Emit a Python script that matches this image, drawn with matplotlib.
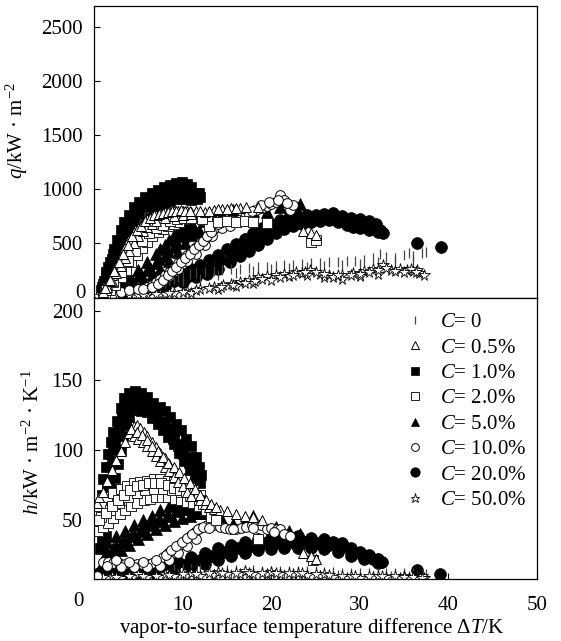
import matplotlib
matplotlib.use("Agg")
import matplotlib.pyplot as plt
import numpy as np

plt.rcParams['font.family'] = ['Liberation Serif', 'DejaVu Serif']
plt.rcParams['mathtext.fontset'] = 'custom'
plt.rcParams['mathtext.rm'] = 'Liberation Serif'
plt.rcParams['mathtext.it'] = 'Liberation Serif:italic'

# (dT, q) and (dT, h) points, one list per mass fraction
c0_q = [(4.0, 60), (5.0, 80), (6.0, 100), (6.5, 115), (7.0, 130), (7.5, 140), (8.0, 150), (8.5, 160),
        (9.0, 170), (9.5, 180), (10.0, 190), (10.8, 210), (11.5, 220), (12.5, 230), (13.5, 240),
        (14.5, 250), (15.5, 255), (16.5, 260), (17.5, 270), (18.5, 275), (19.5, 280), (20.5, 290),
        (21.5, 295), (22.5, 300), (23.5, 305), (24.5, 310), (25.5, 315), (26.5, 320), (27.5, 325),
        (28.5, 330), (29.5, 335), (30.5, 345), (31.5, 360), (32.3, 400), (33.0, 370), (34.0, 360),
        (35.0, 390), (35.6, 404), (36.0, 380), (37.0, 410), (37.5, 420),
        (6.0, 70), (8.0, 110), (10.0, 140), (12.0, 170), (14.0, 200), (16.0, 220), (18.0, 240),
        (20.0, 255), (22.0, 270), (24.0, 280), (26.0, 290), (28.0, 295), (30.0, 305), (32.0, 320),
        (34.0, 330), (36.0, 340)]
c0_h = [(4.0, 12), (5.0, 13), (6.0, 14), (7.0, 15), (8.0, 15), (9.0, 15), (10.0, 15), (11.0, 15),
        (12.0, 15), (13.0, 14), (14.0, 14), (15.0, 14), (16.0, 14), (17.0, 14), (18.0, 14), (19.0, 13),
        (20.0, 13), (21.0, 13), (22.0, 13), (23.0, 13), (24.0, 13), (25.0, 13), (26.0, 12.5),
        (27.0, 12.5), (28.0, 12), (29.0, 12), (30.0, 12), (31.0, 12), (32.0, 12), (33.0, 12),
        (34.0, 11.5), (35.0, 11.5), (36.0, 11.5), (37.0, 11), (37.5, 11),
        (5.5, 10), (7.5, 11), (9.5, 11), (11.5, 11), (13.5, 11), (15.5, 11), (17.5, 11), (19.5, 11),
        (21.5, 11), (23.5, 11), (25.5, 10.5), (27.5, 10.5), (29.5, 10), (31.5, 10), (33.5, 10),
        (35.5, 10), (36.5, 10)]

c05_q = [(1.0, 50), (1.5, 120), (2.0, 200), (2.5, 290), (3.0, 380), (3.5, 460), (4.0, 540), (4.5, 600),
         (5.0, 640), (5.5, 680), (6.0, 720), (6.5, 745), (7.0, 760), (7.5, 775), (8.0, 790), (8.5, 795),
         (9.0, 800), (9.5, 800), (10.0, 800), (10.5, 795), (11.0, 790), (11.5, 800), (12.5, 790),
         (13.5, 805), (14.5, 815), (15.5, 820), (16.5, 825), (17.2, 836), (18.5, 830),
         (1.5, 90), (2.0, 150), (2.5, 220), (3.0, 290), (3.5, 360), (4.0, 430), (4.5, 500), (5.0, 560),
         (5.5, 610), (6.0, 650), (6.5, 680), (7.0, 700), (8.0, 730), (9.0, 750), (10.0, 760), (11.0, 770),
         (1.2, 80), (1.8, 160), (2.3, 240), (2.8, 320), (3.3, 400), (3.8, 480), (4.3, 560), (4.8, 620),
         (5.3, 660), (5.8, 700), (6.3, 735), (6.8, 755), (7.3, 765), (7.8, 780), (8.3, 790), (8.8, 795),
         (9.3, 800), (9.8, 805), (10.3, 800), (10.8, 795), (12.0, 800), (13.0, 800), (14.0, 810),
         (15.0, 815), (16.0, 820),
         (23.6, 610), (24.5, 595), (25.1, 575)]
c05_h = [(0.3, 62), (0.6, 66), (1.0, 70), (1.5, 78), (2.0, 86), (2.5, 93), (3.0, 99), (3.5, 106),
         (4.0, 112), (4.5, 117), (4.8, 118), (5.2, 116), (5.6, 113), (6.0, 110), (6.5, 106), (7.0, 102),
         (7.5, 98), (8.0, 94), (8.5, 90), (9.0, 86), (9.5, 82), (10.0, 78), (10.5, 74), (11.0, 70),
         (11.5, 67), (12.0, 64), (12.5, 61), (13.0, 59), (13.5, 58), (14.2, 57),
         (4.5, 110), (5.0, 108), (5.5, 106), (6.0, 103), (6.5, 99), (7.0, 96), (7.5, 92), (8.0, 88),
         (8.5, 85), (9.0, 81), (9.5, 77), (10.0, 74), (10.5, 70), (11.0, 67),
         (4.2, 115), (4.8, 113), (5.4, 111), (6.0, 107), (6.6, 103), (7.2, 99), (7.8, 95), (8.4, 91),
         (9.0, 88), (9.6, 84), (10.2, 80), (10.8, 76), (11.4, 72), (12.0, 68), (12.6, 64), (13.2, 61),
         (13.8, 59),
         (15.0, 56), (16.0, 54), (17.0, 53), (18.0, 52), (19.0, 50), (23.6, 26), (24.5, 24), (25.1, 22)]

c1_q = [(0.8, 60), (1.0, 120), (1.3, 200), (1.6, 280), (2.0, 350), (2.3, 440), (2.6, 530), (3.0, 620),
        (3.4, 690), (3.9, 760), (4.5, 830), (5.1, 880), (5.8, 930), (6.5, 965), (7.2, 990), (7.9, 1020),
        (8.6, 1040), (9.3, 1055), (9.9, 1065), (10.5, 1045), (11.0, 1020), (11.5, 960), (12.0, 925),
        (1.5, 60), (1.9, 110), (2.3, 170), (2.7, 240), (3.1, 310), (3.5, 370), (3.9, 420), (4.3, 480),
        (4.8, 550), (5.3, 610), (5.8, 670), (6.3, 730), (6.8, 790), (7.4, 840), (8.0, 870), (8.6, 890),
        (9.2, 905), (9.8, 915), (10.4, 910), (11.0, 900), (11.6, 905),
        (1.2, 90), (1.6, 170), (2.0, 250), (2.5, 350), (2.9, 450), (3.4, 540), (3.9, 620), (4.5, 700),
        (5.1, 770), (5.8, 830), (6.5, 880), (7.2, 920), (8.0, 950), (8.8, 975), (9.6, 990), (10.3, 985),
        (11.0, 960),
        (0.9, 90), (1.1, 150), (1.4, 230), (1.8, 320), (2.2, 400), (2.7, 480), (3.2, 580), (3.7, 650),
        (4.2, 720), (4.8, 790), (5.5, 850), (6.2, 900), (6.9, 940), (7.6, 970), (8.3, 1000), (9.0, 1015),
        (9.7, 1030), (10.7, 1000), (11.3, 930), (11.8, 960)]
c1_h = [(0.7, 30), (0.75, 42), (0.8, 55), (0.9, 68), (1.0, 79), (1.3, 88), (1.6, 97), (1.9, 106),
        (2.2, 113), (2.6, 121), (3.0, 130), (3.4, 137), (3.9, 141),
        (1.3, 38), (1.5, 50), (1.8, 62), (2.1, 72), (2.4, 80), (2.7, 90), (3.0, 100), (3.3, 110),
        (3.6, 118), (3.9, 124), (4.2, 129),
        (1.0, 45), (1.2, 60), (1.5, 75), (1.8, 88), (2.2, 100), (2.6, 110), (3.0, 120), (3.4, 128),
        (0.85, 35), (1.1, 52), (1.4, 66), (1.7, 78), (2.0, 92), (2.4, 104), (2.8, 115), (3.2, 124),
        (3.7, 132), (4.3, 137),
        (4.6, 142), (5.3, 141), (6.0, 138), (6.7, 134), (7.4, 131), (8.0, 128), (8.6, 124), (9.2, 119),
        (9.8, 114), (10.4, 108), (11.0, 103), (11.5, 95), (11.9, 88), (12.1, 82),
        (4.6, 130), (5.3, 128), (6.0, 127), (6.6, 123), (7.2, 119), (7.8, 114), (8.4, 109), (9.0, 104),
        (9.6, 98), (10.2, 92), (10.8, 86), (11.4, 80), (12.0, 76),
        (4.0, 136), (5.0, 135), (6.0, 132), (7.0, 126), (8.0, 120), (9.0, 112), (10.0, 104), (11.0, 95),
        (5.6, 134), (6.3, 130), (7.0, 124), (7.6, 120), (8.3, 115), (8.9, 108), (9.5, 103), (10.1, 97),
        (10.7, 91), (11.3, 86), (11.8, 81)]

c2_q = [(1.2, 40), (1.6, 80), (2.0, 120), (2.4, 160), (2.8, 210), (3.2, 260), (3.6, 310), (4.0, 360),
        (4.4, 410), (4.8, 460), (5.2, 510), (5.6, 550), (6.0, 580), (6.5, 610), (7.0, 630), (7.5, 650),
        (8.0, 670), (8.5, 690), (9.0, 700), (9.5, 710), (10.0, 720), (10.5, 730), (11.0, 740),
        (11.5, 745), (12.0, 730), (12.7, 713), (13.0, 660), (14.0, 690), (15.0, 700), (16.0, 690),
        (17.0, 700), (18.0, 690), (19.5, 682),
        (1.8, 60), (2.4, 110), (3.0, 180), (3.6, 250), (4.2, 320), (4.8, 390), (5.4, 450), (6.0, 510),
        (6.6, 560), (7.2, 600), (7.8, 630), (8.4, 660), (9.0, 680), (9.6, 690),
        (1.4, 60), (2.2, 140), (3.0, 230), (3.8, 330), (4.6, 430), (5.4, 520), (6.2, 590), (7.0, 640),
        (7.8, 670), (8.6, 700), (9.4, 720), (10.2, 730), (11.0, 735), (12.2, 720),
        (24.5, 512), (25.0, 530)]
c2_h = [(0.3, 60), (0.8, 62), (1.5, 66), (2.2, 69), (3.0, 72), (3.7, 74), (4.5, 76), (5.2, 77),
        (6.0, 78), (6.8, 79), (7.5, 79), (8.3, 78), (9.0, 77), (9.8, 75), (10.5, 73), (11.2, 71),
        (12.0, 68),
        (0.4, 42), (1.0, 45), (1.6, 48), (2.2, 51), (2.9, 54), (3.5, 57), (4.2, 60), (4.9, 62),
        (5.6, 64), (6.3, 65), (7.0, 66), (7.7, 66), (8.4, 66), (9.1, 65), (9.8, 64), (10.5, 63),
        (11.2, 62), (11.9, 60), (12.6, 57),
        (0.8, 52), (1.8, 57), (2.8, 62), (3.8, 66), (4.8, 69), (5.8, 71), (6.8, 72), (7.8, 72),
        (8.8, 71), (9.8, 70), (10.8, 67),
        (0.6, 50), (1.3, 55), (2.0, 60), (2.7, 64), (3.4, 68), (4.1, 71), (4.8, 74), (5.5, 75),
        (6.2, 76), (6.9, 76), (7.6, 76), (8.3, 75), (9.0, 73), (9.7, 71), (10.4, 70), (11.1, 67),
        (11.8, 64), (12.3, 61),
        (13.2, 52), (13.8, 50), (18.5, 36), (24.7, 21)]

c5_q = [(1.0, 40), (2.0, 85), (3.0, 135), (4.0, 190), (5.0, 250), (6.0, 320), (7.0, 400), (7.5, 440),
        (8.0, 480), (8.5, 525), (9.0, 570), (9.5, 610), (10.0, 650), (10.5, 690), (10.8, 713),
        (1.5, 25), (2.5, 45), (3.5, 75), (4.5, 110), (5.5, 160), (6.5, 200), (7.5, 260), (8.5, 330),
        (9.5, 420), (10.3, 500), (11.0, 570), (11.5, 600), (11.9, 620),
        (2.0, 55), (3.0, 90), (4.0, 140), (5.0, 190), (6.0, 250), (7.0, 310), (8.0, 380), (9.0, 460),
        (10.0, 560), (10.8, 640),
        (1.3, 30), (2.3, 60), (3.3, 100), (4.3, 150), (5.3, 210), (6.3, 270), (7.3, 350), (8.3, 430),
        (9.3, 520), (10.2, 600), (11.2, 660),
        (12.5, 700), (13.5, 740), (14.5, 770), (15.7, 805), (17.0, 780), (18.0, 800), (19.5, 790),
        (21.0, 830), (22.0, 800), (23.2, 860)]
c5_h = [(0.8, 30), (1.5, 34), (2.5, 38), (3.5, 42), (4.5, 46), (5.5, 50), (6.5, 53), (7.5, 57),
        (8.5, 60), (9.2, 62), (9.8, 64), (10.4, 65), (10.8, 63),
        (1.0, 20), (2.0, 24), (3.0, 28), (4.0, 32), (5.0, 36), (6.0, 40), (7.0, 43), (8.0, 46),
        (9.0, 49), (9.9, 51), (10.8, 53), (11.4, 55), (11.9, 55),
        (1.5, 27), (2.5, 31), (3.5, 35), (4.5, 39), (5.5, 43), (6.5, 47), (7.5, 50), (8.5, 53),
        (9.5, 57), (10.3, 59), (11.0, 58),
        (1.2, 25), (2.2, 30), (3.2, 34), (4.2, 38), (5.2, 42), (6.2, 46), (7.2, 49), (8.2, 53),
        (9.2, 56), (10.0, 58), (10.6, 60), (11.6, 57),
        (12.7, 55), (13.5, 53), (14.5, 50), (15.7, 47), (17.0, 50), (17.9, 53), (19.0, 48),
        (20.5, 45), (22.0, 42), (23.2, 40)]

c10_q = [(1.0, 20), (2.0, 30), (3.0, 45), (4.0, 60), (5.0, 75), (6.0, 90), (6.5, 110), (7.0, 140),
         (7.5, 170), (8.0, 200), (8.5, 235), (9.0, 270), (9.5, 310), (10.0, 345), (10.5, 385),
         (11.0, 420), (11.5, 460), (12.0, 500), (12.5, 540), (13.0, 580), (13.4, 620), (13.8, 650),
         (5.5, 70), (6.5, 90), (7.5, 130), (8.5, 190), (9.5, 260), (10.5, 330), (11.5, 400), (12.5, 480),
         (13.3, 560),
         (7.2, 120), (7.8, 160), (8.3, 200), (8.8, 240), (9.3, 280), (9.8, 320), (10.3, 360), (10.8, 400),
         (11.3, 440), (11.8, 480), (12.3, 520), (12.8, 560), (13.2, 600), (14.5, 640), (15.0, 690),
         (13.1, 667), (14.0, 680), (15.3, 660), (16.0, 700), (16.4, 713), (17.0, 740), (17.5, 770),
         (18.3, 805), (19.0, 820), (19.5, 840), (20.0, 860), (20.5, 880), (21.0, 944), (21.5, 900),
         (22.1, 805), (22.5, 850), (17.8, 800), (18.8, 850), (19.8, 880), (20.8, 900), (21.8, 870)]
c10_h = [(0.3, 10), (1.0, 20), (1.6, 20), (2.2, 19), (2.8, 19), (3.5, 18.5), (4.2, 18.5), (4.8, 18.5),
         (5.4, 18.5), (6.0, 18.5), (6.6, 19), (7.3, 19), (7.8, 23), (8.4, 26), (9.0, 29), (9.6, 32),
         (10.2, 35), (10.8, 38), (11.4, 41), (12.0, 44), (12.7, 46), (13.4, 46), (14.2, 45),
         (14.8, 44), (15.4, 43), (16.0, 43), (16.6, 44), (17.2, 45), (17.8, 46), (18.3, 47),
         (18.9, 46), (19.5, 43), (20.0, 44), (20.6, 43), (21.0, 43), (21.5, 40), (22.1, 38),
         (1.5, 17), (3.0, 16), (4.5, 16), (6.0, 16), (7.5, 17), (8.5, 21), (9.5, 26), (10.5, 31),
         (11.5, 36),
         (8.1, 25), (8.7, 28), (9.3, 31), (9.9, 34), (10.5, 37), (11.1, 40), (11.7, 43), (12.3, 45),
         (13.0, 44), (2.5, 21), (4.0, 20), (5.5, 20), (7.0, 21), (15.7, 43), (18.0, 44), (20.3, 41)]

c20_q = [(1.0, 25), (2.5, 45), (4.0, 70), (5.5, 95), (7.0, 130), (8.5, 170), (10.0, 215), (11.0, 255),
         (12.0, 300), (13.0, 345), (14.0, 390), (15.0, 440), (16.0, 490), (17.0, 540), (18.0, 590),
         (19.0, 640), (20.0, 680), (21.0, 715), (22.0, 735), (23.0, 750), (24.0, 755), (25.0, 760),
         (26.0, 765), (27.0, 775), (28.0, 750), (29.0, 735), (30.0, 720), (31.0, 700), (31.8, 680),
         (2.0, 15), (4.0, 35), (6.0, 60), (8.0, 95), (10.0, 140), (11.5, 180), (12.7, 215), (14.0, 260),
         (15.3, 320), (16.5, 375), (17.5, 430), (18.5, 485), (19.5, 540), (20.5, 590), (21.5, 630),
         (22.5, 660), (23.5, 680), (24.5, 690), (25.5, 700), (26.5, 710), (27.5, 690), (28.5, 670),
         (29.2, 650), (30.0, 640), (31.0, 620), (32.0, 600), (32.6, 590),
         (1.5, 20), (3.0, 40), (5.0, 70), (7.0, 105), (9.0, 150), (10.5, 185), (11.8, 230), (13.0, 290),
         (14.2, 340), (15.5, 390), (16.5, 440), (17.5, 490), (18.5, 540), (19.5, 590), (20.5, 640),
         (21.5, 675), (22.5, 700), (23.5, 715), (24.5, 725), (25.5, 730), (26.5, 740), (27.5, 725),
         (28.5, 705), (29.5, 690), (30.5, 670), (31.5, 650), (32.3, 620),
         (36.4, 497), (39.2, 466)]
c20_h = [(0.6, 12), (2.0, 13), (3.5, 14), (5.0, 15), (6.5, 16), (8.0, 18), (9.5, 20), (11.0, 23),
         (12.5, 26), (14.0, 30), (15.5, 32), (17.0, 34), (18.5, 36), (20.0, 37), (21.5, 38), (23.0, 38),
         (24.5, 37), (26.0, 36), (27.0, 34), (28.0, 33), (29.0, 30), (30.0, 27), (31.0, 25),
         (32.0, 22), (32.5, 20),
         (1.0, 8), (3.0, 9), (5.0, 10), (7.0, 11), (9.0, 13), (11.0, 16), (12.5, 18), (14.0, 21),
         (15.5, 24), (17.0, 26), (18.5, 28), (20.0, 29), (21.5, 30), (23.0, 30), (24.5, 30), (26.0, 29),
         (27.5, 27), (29.0, 24), (30.5, 22), (32.0, 19),
         (1.5, 10), (3.0, 11), (4.5, 12), (6.0, 13), (7.5, 14), (9.0, 16), (10.5, 18), (12.0, 21),
         (13.3, 24), (14.8, 27), (16.2, 30), (17.7, 31), (19.2, 33), (20.7, 34), (22.2, 34), (23.7, 34),
         (25.2, 33), (26.5, 32), (27.8, 30), (29.0, 27), (30.2, 25), (31.5, 22), (32.4, 20),
         (36.5, 14), (39.1, 11)]

c50_q = [(0.3, 10), (1.5, 12), (3.0, 15), (4.5, 20), (6.0, 25), (7.5, 30), (9.0, 40), (10.5, 55),
         (12.0, 70), (13.5, 90), (14.6, 110), (15.5, 120), (16.5, 140), (17.5, 160), (18.5, 180),
         (19.5, 190), (20.5, 200), (21.5, 215), (22.8, 230), (23.5, 220), (24.4, 250), (25.5, 210),
         (26.5, 200), (27.0, 188), (28.0, 205), (29.2, 219), (30.5, 240), (31.5, 260), (32.6, 296),
         (33.5, 250), (34.5, 260), (35.3, 250), (36.0, 240), (36.7, 220), (37.2, 204),
         (2.0, 8), (5.0, 15), (8.0, 25), (11.0, 40), (14.0, 70), (16.0, 100), (18.0, 130), (20.0, 160),
         (22.0, 190), (24.0, 200), (26.0, 180), (28.0, 170), (30.0, 190), (32.0, 210), (35.0, 230),
         (36.5, 250),
         (1.0, 12), (2.5, 14), (4.0, 18), (5.5, 20), (7.0, 25), (8.5, 32), (10.0, 45), (11.5, 60),
         (13.0, 80), (14.3, 95), (15.7, 110), (17.0, 130), (18.2, 150), (19.0, 170), (21.0, 180),
         (22.5, 200), (23.8, 230), (25.0, 230), (26.0, 210), (27.5, 200), (29.0, 200), (30.0, 210),
         (31.0, 230), (32.0, 250), (33.0, 270), (34.0, 240), (35.8, 260), (36.3, 230)]
c50_h = [(0.3, 8), (1.5, 8.5), (3.0, 8.5), (4.5, 9), (6.0, 9), (7.5, 9), (9.0, 9.5), (10.5, 10),
         (12.0, 10), (13.5, 10.5), (15.0, 11), (16.5, 11), (18.0, 11), (19.5, 11), (21.0, 11),
         (22.5, 11), (24.0, 10.5), (25.5, 10), (27.0, 9), (28.5, 8.5), (30.0, 8.5), (31.5, 9),
         (33.0, 9), (34.5, 8.5), (35.5, 8.5), (36.5, 8), (37.2, 8),
         (2.0, 10), (5.0, 11), (8.0, 11), (11.0, 12), (14.0, 12.5), (17.0, 13), (20.0, 12.5),
         (23.0, 12), (26.0, 11), (29.0, 10), (32.0, 10), (35.0, 10), (37.0, 9.5),
         (1.0, 9), (2.5, 9), (4.0, 9.5), (5.5, 10), (7.0, 10), (8.5, 10.5), (10.0, 11), (11.5, 11),
         (13.0, 11.5), (14.5, 12), (16.0, 12), (17.5, 12), (19.0, 12), (20.5, 12), (22.0, 12),
         (23.5, 11.5), (25.0, 11), (26.5, 10.5), (28.0, 10), (29.5, 9.5), (31.0, 9.5), (32.5, 9.5),
         (34.0, 9.5), (35.0, 9), (36.0, 9), (37.0, 8.5)]

labels = ["0", "0.5%", "1.0%", "2.0%", "5.0%", "10.0%", "20.0%", "50.0%"]
q_sets = [c0_q, c05_q, c1_q, c2_q, c5_q, c10_q, c20_q, c50_q]
h_sets = [c0_h, c05_h, c1_h, c2_h, c5_h, c10_h, c20_h, c50_h]

styles = [
    dict(marker="|", color="#444", ms=7, mew=0.9),
    dict(marker="^", mfc="white", mec="black", ms=7, mew=0.7),
    dict(marker="s", mfc="black", mec="black", ms=7.5, mew=0.5),
    dict(marker="s", mfc="white", mec="#222", ms=7, mew=0.7),
    dict(marker="^", mfc="black", mec="black", ms=8, mew=0.5),
    dict(marker="o", mfc="white", mec="black", ms=7, mew=0.7),
    dict(marker="o", mfc="black", mec="black", ms=8.5, mew=0.5),
    dict(marker="*", mfc="white", mec="black", ms=8.5, mew=0.6),
]
order = [6, 4, 2, 0, 7, 5, 3, 1]  # filled ones underneath

fig = plt.figure(figsize=(5.61, 6.41), dpi=100)
W, H = 561, 641
ax1 = fig.add_axes([94 / W, 1 - 298 / H, 443 / W, 292 / H])
ax2 = fig.add_axes([94 / W, 1 - 579 / H, 443 / W, 281 / H])

handles = [None] * 8
for i in order:
    x, y = np.array(q_sets[i]).T
    ax1.plot(x, y, ls="none", **styles[i])
    x, y = np.array(h_sets[i]).T
    handles[i], = ax2.plot(x, y, ls="none", **styles[i])

for ax in (ax1, ax2):
    ax.set_xlim(0, 50)
    ax.tick_params(direction="in", length=4, width=0.8, labelsize=15)
    ax.tick_params(axis="y", pad=8)
    for s in ax.spines.values():
        s.set_linewidth(0.9)

ax1.set_ylim(-10, 2695)
ax1.set_yticks([500, 1000, 1500, 2000, 2500])
ax1.tick_params(axis="x", length=0, labelbottom=False)
# the zero label sits a little above its tick in the reference
ax1.text(-0.02, 28, "0", transform=ax1.get_yaxis_transform(), ha="right", va="center", fontsize=15)

ax2.set_ylim(7.5, 209)
ax2.set_yticks([50, 100, 150, 200])
ax2.set_xticks([10, 20, 30, 40, 50])
ax2.tick_params(axis="x", pad=12)
ax2.text(-1.8, -0.045, "0", transform=ax2.get_xaxis_transform(), ha="center", va="top", fontsize=15)

fig.text(17 / W, 1 - 131 / H, r"$q$/kW · m$^{-2}$", rotation=90, ha="center", va="center", fontsize=15)
fig.text(33 / W, 1 - 442 / H, r"$h$/kW · m$^{-2}$ · K$^{-1}$", rotation=90, ha="center", va="center",
         fontsize=15)
fig.text(312 / W, 1 - 628 / H, r"vapor-to-surface temperature difference Δ$T$/K", ha="center",
         va="center", fontsize=15)

ax2.legend(handles, [r"$C$= " + s for s in labels], loc="upper left", bbox_to_anchor=(0.701, 0.948),
           frameon=False, fontsize=15, handlelength=1.0, handletextpad=0.7, labelspacing=0.28,
           borderpad=0, borderaxespad=0, numpoints=1, markerscale=0.8)

fig.savefig("out.png", dpi=100)
